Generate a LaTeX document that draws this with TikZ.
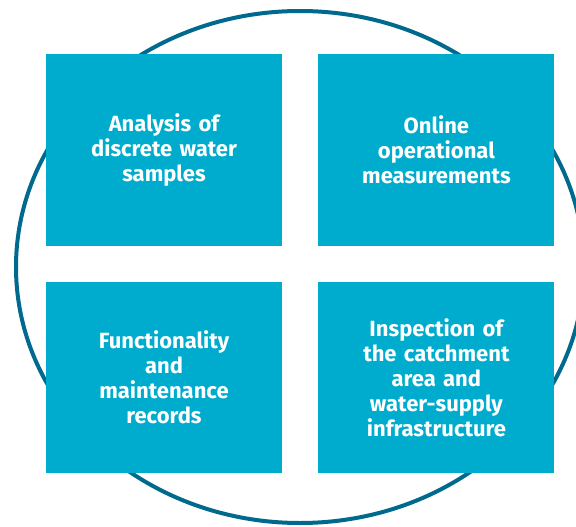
\documentclass[tikz,border=0pt]{standalone}
\usepackage{fontspec}
\setmainfont{Fira Sans}
\usepackage{xcolor}
\usetikzlibrary{math,positioning}

\definecolor{ringblue}{HTML}{006A8E}
\definecolor{boxblue}{HTML}{00ACCD}

\tikzset{
  field/.style={fill=boxblue, text=white, inner sep=0pt,
    font=\bfseries\fontsize{22}{25}\selectfont,
    minimum width=236pt, minimum height=191pt,
    text width=220pt, align=center},
}

\begin{document}
\begin{tikzpicture}[x=1pt,y=-1pt]

\tikzmath{
\gap = 36;
\rx = 284;
\ry = 256;
}

\useasboundingbox (0,0) rectangle (576,527);
\clip (0,0) rectangle (576,527);

% outer ring
\draw[ringblue, line width=4pt] (300,267) ellipse ({\rx pt} and {\ry pt});

% the four fields
\node[field] (analysis) at (164,150) {Analysis of\\discrete water\\samples};
\node[field, right=\gap pt of analysis] (online) {Online\\operational\\measurements};
\node[field, below=\gap pt of analysis] (records) {Functionality\\and\\maintenance\\records};
\node[field, right=\gap pt of records] (inspection) {Inspection of\\the catchment\\area and\\water-supply\\infrastructure};

\end{tikzpicture}
\end{document}
